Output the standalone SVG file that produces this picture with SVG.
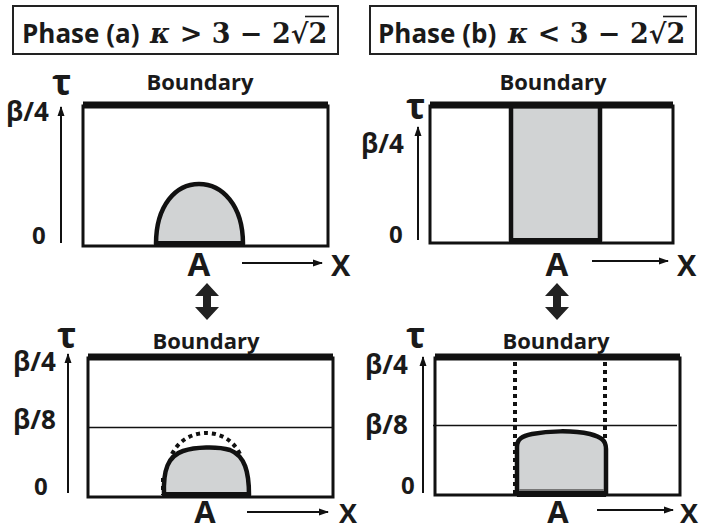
<svg xmlns="http://www.w3.org/2000/svg" width="703" height="531" viewBox="0 0 703 531">
<defs>
<marker id="ah" markerWidth="10" markerHeight="10" refX="9" refY="5" orient="auto" markerUnits="userSpaceOnUse">
<path d="M0,1.5 L10,5 L0,8.5 Z" fill="#111"/>
</marker>
<style>
.lbl{font-family:"Open Sans","Liberation Sans",sans-serif;font-weight:bold;fill:#1a1a1a}
.math{font-family:"DejaVu Serif","Liberation Serif",serif;font-weight:bold;fill:#1a1a1a}
.tbox{fill:#fff;stroke:#222;stroke-width:2}
.frame{fill:#fff;stroke:#111;stroke-width:3}
.bnd{stroke:#111;stroke-width:7}
.axis{stroke:#111;stroke-width:2;fill:none}
.region{fill:#d1d3d4;stroke:#111;stroke-width:4.5;stroke-linejoin:round}
.base{stroke:#111;stroke-width:6}
.dots{fill:none;stroke:#111;stroke-width:4;stroke-dasharray:4 4}
.thin{stroke:#111;stroke-width:1.3}
.dbl{fill:#222}
.tau{font-size:36px}
.beta{font-size:26px}
.zero{font-size:24px}
.bd{font-size:22px}
.aa{font-size:33px}
.xx{font-size:29px}
.aab{font-size:31px}
.xxb{font-size:27px}
</style>
</defs>

<g id="title-a">
<rect class="tbox" x="13" y="6" width="325" height="48"/>
<text class="lbl" x="22" y="43" font-size="26">Phase (a)</text>
<text class="math" x="150" y="43" font-size="27"><tspan font-style="italic">κ</tspan> &gt; 3 − 2√2</text>
<line x1="305" y1="16.5" x2="329" y2="16.5" stroke="#1a1a1a" stroke-width="1.6"/>
</g>

<g id="title-b">
<rect class="tbox" x="370" y="6" width="326" height="48"/>
<text class="lbl" x="378" y="43" font-size="26">Phase (b)</text>
<text class="math" x="508" y="43" font-size="27"><tspan font-style="italic">κ</tspan> &lt; 3 − 2√2</text>
<line x1="663" y1="16.5" x2="687" y2="16.5" stroke="#1a1a1a" stroke-width="1.6"/>
</g>

<g id="panel-a-top">
<text class="lbl bd" x="200" y="90" text-anchor="middle">Boundary</text>
<rect class="frame" x="83" y="106" width="245" height="140"/>
<line class="bnd" x1="83" y1="105" x2="328" y2="105"/>
<path class="region" d="M156,244 C156,205 176,184 199,184 C222,184 243,205 243,244 Z"/>
<line class="base" x1="156" y1="244" x2="243" y2="244"/>
<line class="axis" x1="61" y1="243" x2="61" y2="107" marker-end="url(#ah)"/>
<text class="lbl tau" x="52" y="95">τ</text>
<text class="lbl beta" x="6" y="121">β/4</text>
<text class="lbl zero" x="32" y="244">0</text>
<text class="lbl aa" x="199" y="276" text-anchor="middle">A</text>
<line class="axis" x1="242" y1="263" x2="322" y2="263" marker-end="url(#ah)"/>
<text class="lbl xx" x="331" y="276">X</text>
</g>

<g id="panel-b-top">
<text class="lbl bd" x="553" y="90" text-anchor="middle">Boundary</text>
<rect class="frame" x="430" y="106" width="243" height="137"/>
<rect class="region" x="511" y="106" width="89" height="135"/>
<line class="bnd" x1="430" y1="105" x2="673" y2="105"/>
<line class="base" x1="511" y1="241" x2="600" y2="241"/>
<line class="axis" x1="418" y1="240" x2="418" y2="127" marker-end="url(#ah)"/>
<text class="lbl tau" x="406" y="119">τ</text>
<text class="lbl beta" x="361" y="153">β/4</text>
<text class="lbl zero" x="389" y="243">0</text>
<text class="lbl aa" x="557" y="276" text-anchor="middle">A</text>
<line class="axis" x1="592" y1="261" x2="668" y2="261" marker-end="url(#ah)"/>
<text class="lbl xx" x="677" y="276">X</text>
</g>

<g id="arrow-a">
<polygon class="dbl" points="207,283 219,296 211,296 211,307 219,307 207,320 195,307 203,307 203,296 195,296"/>
</g>
<g id="arrow-b">
<polygon class="dbl" points="557,283 569,296 561,296 561,307 569,307 557,320 545,307 553,307 553,296 545,296"/>
</g>

<g id="panel-a-bottom">
<text class="lbl bd" x="206" y="349" text-anchor="middle">Boundary</text>
<rect class="frame" x="88" y="358" width="245" height="139"/>
<line class="bnd" x1="88" y1="357" x2="333" y2="357"/>
<line class="thin" x1="88" y1="427.5" x2="333" y2="427.5"/>
<path class="dots" d="M172,454 C180,438 195,433 206,433 C218,433 232,438 240,454"/>
<path class="dots" d="M163,478 L163,495" stroke-dasharray="3 4"/>
<path class="region" d="M164,495 C163,470 168,456 183,451 C195,447 217,446 230,450 C245,456 249,472 249,495 Z"/>
<line class="base" x1="164" y1="495" x2="249" y2="495"/>
<line class="axis" x1="68" y1="493" x2="68" y2="354" marker-end="url(#ah)"/>
<text class="lbl tau" x="57" y="348">τ</text>
<text class="lbl beta" x="13" y="371">β/4</text>
<text class="lbl beta" x="13" y="429">β/8</text>
<text class="lbl zero" x="34" y="495">0</text>
<text class="lbl aab" x="205" y="523" text-anchor="middle">A</text>
<line class="axis" x1="247" y1="512" x2="328" y2="512" marker-end="url(#ah)"/>
<text class="lbl xxb" x="339" y="523">X</text>
</g>

<g id="panel-b-bottom">
<text class="lbl bd" x="556" y="349" text-anchor="middle">Boundary</text>
<rect class="frame" x="435" y="358" width="245" height="137"/>
<line class="bnd" x1="435" y1="357" x2="680" y2="357"/>
<line class="thin" x1="433" y1="425.5" x2="677" y2="425.5"/>
<line class="dots" x1="515" y1="362" x2="515" y2="494" stroke-width="3.5"/>
<line class="dots" x1="605" y1="362" x2="605" y2="440" stroke-width="3.5"/>
<path class="region" d="M517,494 L517,447 C517,439 522,436 532,434 C548,431 572,430 590,434 C601,437 606,440 606,449 L606,494 Z"/>
<line class="base" x1="517" y1="494" x2="606" y2="494"/>
<line x1="519" y1="490" x2="604" y2="490" stroke="#777" stroke-width="2"/>
<line class="axis" x1="423" y1="493" x2="423" y2="357" marker-end="url(#ah)"/>
<text class="lbl tau" x="406" y="348">τ</text>
<text class="lbl beta" x="365" y="374">β/4</text>
<text class="lbl beta" x="365" y="434">β/8</text>
<text class="lbl zero" x="401" y="494">0</text>
<text class="lbl aab" x="558" y="523" text-anchor="middle">A</text>
<line class="axis" x1="597" y1="510" x2="673" y2="510" marker-end="url(#ah)"/>
<text class="lbl xxb" x="680" y="523">X</text>
</g>
</svg>
